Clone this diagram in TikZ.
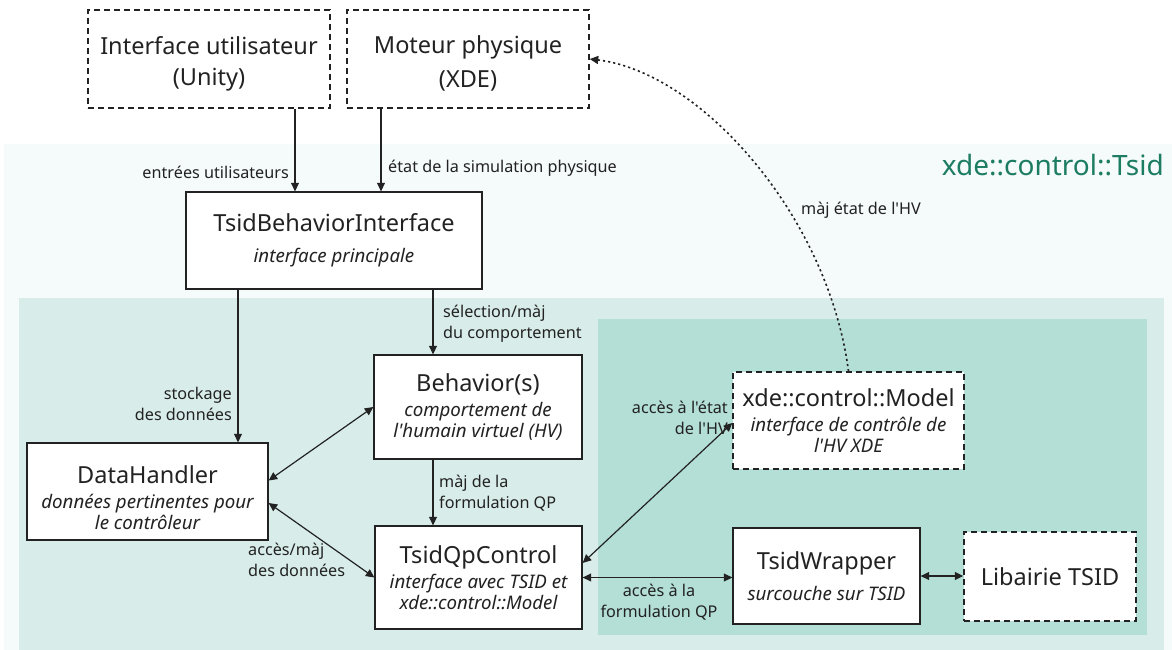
\documentclass[tikz,border=0pt]{standalone}
\usepackage{fontspec}
\setmainfont{Noto Sans}[Ligatures=TeXOff]
\usetikzlibrary{arrows.meta,calc}
\definecolor{regA}{HTML}{F5FAFA}
\definecolor{regB}{HTML}{D8EDEA}
\definecolor{regC}{HTML}{B3DFD6}
\definecolor{teallab}{HTML}{1D7D62}
\definecolor{ink}{HTML}{222222}
\tikzset{
  box/.style={draw=ink, line width=1.3pt, fill=white, text=ink, align=center, inner sep=2pt, font=\fontsize{18.7}{21}\selectfont\itshape},
  dbox/.style={box, line width=1.5pt, dash pattern=on 6pt off 4pt},
  arr/.style={draw=ink, line width=1.2pt, -{Triangle[length=8.5pt,width=8pt]}},
  darr/.style={draw=ink, line width=1.2pt, {Triangle[length=8.5pt,width=8pt]}-{Triangle[length=8.5pt,width=8pt]}},
  lab/.style={text=ink, font=\fontsize{16.2}{21}\selectfont, inner sep=1pt},
}
\newcommand{\ttl}[1]{{\fontsize{23.5}{25}\selectfont\upshape #1}}
\begin{document}
\begin{tikzpicture}[x=1pt,y=-1pt]
\useasboundingbox (0,0) rectangle (1172,650);
% regions
\fill[regA] (4,144) rectangle (1172,650);
\fill[regB] (19,298) rectangle (1164,650);
\fill[regC] (598,319) rectangle (1147,635);
\node[anchor=east, text=teallab, font=\fontsize{28}{32}\selectfont, inner sep=0pt] (tsidlab) at (1164,165) {xde::control::Tsid};
% boxes
\node[dbox, minimum width=242pt, minimum height=98pt] (ui) at (209,59) {\rule{0pt}{27pt}\ttl{Interface utilisateur}\\[10pt]\ttl{(Unity)}};
\node[dbox, minimum width=242pt, minimum height=98pt] (mot) at (468,59) {\rule{0pt}{27pt}\ttl{Moteur physique}\\[10pt]\ttl{(XDE)}};
\node[box, minimum width=296pt, minimum height=97pt] (tbi) at (334,240.5) {\ttl{TsidBehaviorInterface}\\[10pt]interface principale};
\node[box, minimum width=208pt, minimum height=104pt] (beh) at (478,407) {\ttl{Behavior(s)}\\[4pt]comportement de\\l'humain virtuel (HV)};
\node[box, minimum width=241pt, minimum height=97pt] (dh) at (147.5,491.5) {\rule{0pt}{30pt}\ttl{DataHandler}\\[4pt]données pertinentes pour\\le contrôleur};
\node[box, minimum width=207pt, minimum height=103pt] (qp) at (478.5,577.5) {\ttl{TsidQpControl}\\[4pt]interface avec TSID et\\xde::control::Model};
\node[dbox, minimum width=231pt, minimum height=97pt] (mod) at (848.5,420.5) {\ttl{xde::control::Model}\\[4pt]interface de contrôle de\\l'HV XDE};
\node[box, minimum width=187pt, minimum height=96pt] (tw) at (826.5,576) {\ttl{TsidWrapper}\\[10pt]surcouche sur TSID};
\node[dbox, minimum width=172pt, minimum height=89pt] (lib) at (1050,576.5) {\ttl{Libairie TSID}};
% x positions
\coordinate (xa) at (295,0);
\coordinate (xb) at (381,0);
\coordinate (xc) at (238,0);
\coordinate (xd) at (433,0);
% connectors
\draw[arr] (ui.south -| xa) -- (tbi.north -| xa);
\node[lab, anchor=east] (l1) at (290,172) {entrées utilisateurs};
\draw[arr] (mot.south -| xb) -- (tbi.north -| xb);
\node[lab, anchor=west] (l2) at (387,168) {état de la simulation physique};
\draw[arr] (tbi.south -| xc) -- (dh.north -| xc);
\node[lab, anchor=east, align=right] (l3) at (233,404) {stockage\\des données};
\draw[arr] (tbi.south -| xd) -- (beh.north -| xd);
\node[lab, anchor=west, align=left] (l4) at (442,324) {sélection/màj\\du comportement};
\draw[darr] (beh.west) -- ([yshift=11pt]dh.east);
\draw[darr] ([yshift=-11.5pt]dh.east) -- (qp.west);
\node[lab, anchor=west, align=left] (l5) at (247,560) {accès/màj\\des données};
\draw[arr] (beh.south -| xd) -- (qp.north -| xd);
\node[lab, anchor=west, align=left] (l6) at (438,493) {màj de la\\formulation QP};
\draw[darr] ([yshift=14.5pt]qp.east) -- ([yshift=-2.5pt]mod.west);
\node[lab, anchor=east, align=right] (l7) at (729,418) {accès à l'état\\de l'HV};
\draw[darr] (qp.east) -- (qp.east -| tw.west);
\node[lab, anchor=center, align=center] (l8) at (659,602) {accès à la\\formulation QP};
\draw[darr] (tw.east) -- (tw.east -| lib.west);
\draw[draw=ink, line width=1.6pt, dash pattern=on 2.2pt off 3pt, -{Triangle[length=8.5pt,width=8pt]}] (mod.north) .. controls (828,215) and (700,72) .. (mot.east);
\node[lab, anchor=west] (l9) at (800,210) {màj état de l'HV};
\end{tikzpicture}
\end{document}
